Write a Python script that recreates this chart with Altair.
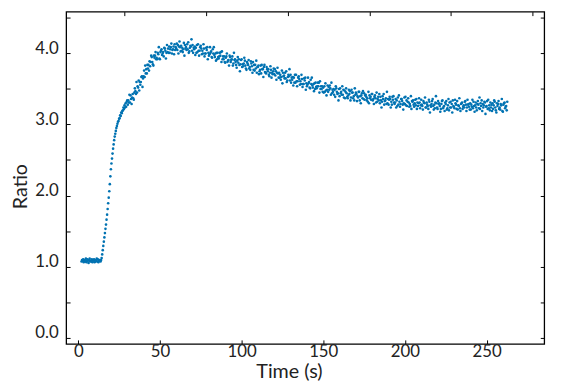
import altair as alt
import pandas as pd

# Acquisition second (s) and the three ratio readings taken within that second
seconds = [
    2, 3, 4, 5, 6, 7, 8, 9, 10, 11, 12, 13, 14, 15, 16, 17, 18, 19, 20, 21,
    22, 23, 24, 25, 26, 27, 28, 29, 30, 31, 32, 33, 34, 35, 36, 37, 38, 39, 40, 41,
    42, 43, 44, 45, 46, 47, 48, 49, 50, 51, 52, 53, 54, 55, 56, 57, 58, 59, 60, 61,
    62, 63, 64, 65, 66, 67, 68, 69, 70, 71, 72, 73, 74, 75, 76, 77, 78, 79, 80, 81,
    82, 83, 84, 85, 86, 87, 88, 89, 90, 91, 92, 93, 94, 95, 96, 97, 98, 99, 100, 101,
    102, 103, 104, 105, 106, 107, 108, 109, 110, 111, 112, 113, 114, 115, 116, 117, 118, 119, 120, 121,
    122, 123, 124, 125, 126, 127, 128, 129, 130, 131, 132, 133, 134, 135, 136, 137, 138, 139, 140, 141,
    142, 143, 144, 145, 146, 147, 148, 149, 150, 151, 152, 153, 154, 155, 156, 157, 158, 159, 160, 161,
    162, 163, 164, 165, 166, 167, 168, 169, 170, 171, 172, 173, 174, 175, 176, 177, 178, 179, 180, 181,
    182, 183, 184, 185, 186, 187, 188, 189, 190, 191, 192, 193, 194, 195, 196, 197, 198, 199, 200, 201,
    202, 203, 204, 205, 206, 207, 208, 209, 210, 211, 212, 213, 214, 215, 216, 217, 218, 219, 220, 221,
    222, 223, 224, 225, 226, 227, 228, 229, 230, 231, 232, 233, 234, 235, 236, 237, 238, 239, 240, 241,
    242, 243, 244, 245, 246, 247, 248, 249, 250, 251, 252, 253, 254, 255, 256, 257, 258, 259, 260, 261,
    262,
]
reading_offset_s = [0.0, 0.33, 0.67]

ratio_per_second = [
    [1.07, 1.09, 1.08], [1.10, 1.06, 1.08], [1.09, 1.07, 1.11], [1.06, 1.08, 1.10],
    [1.08, 1.05, 1.09], [1.11, 1.07, 1.08], [1.07, 1.10, 1.06], [1.09, 1.08, 1.10],
    [1.06, 1.09, 1.07], [1.08, 1.11, 1.07], [1.10, 1.06, 1.09], [1.08, 1.09, 1.07],
    [1.09, 1.12, 1.17], [1.23, 1.29, 1.35], [1.41, 1.47, 1.53], [1.59, 1.66, 1.73],
    [1.81, 1.89, 1.97], [2.06, 2.16, 2.27], [2.37, 2.45, 2.52], [2.59, 2.66, 2.72],
    [2.78, 2.83, 2.87], [2.91, 2.95, 2.98], [3.01, 3.04, 3.05], [3.08, 3.09, 3.13],
    [3.12, 3.17, 3.16], [3.19, 3.20, 3.24], [3.22, 3.27, 3.24], [3.30, 3.25, 3.32],
    # 30-59
    [3.34, 3.28, 3.34], [3.31, 3.42, 3.31], [3.41, 3.36, 3.29], [3.38, 3.43, 3.37],
    [3.35, 3.45, 3.51], [3.47, 3.43, 3.60], [3.45, 3.54, 3.52], [3.62, 3.48, 3.60],
    [3.56, 3.60, 3.67], [3.68, 3.53, 3.65], [3.68, 3.76, 3.67], [3.83, 3.72, 3.78],
    [3.72, 3.84, 3.79], [3.84, 3.76, 3.89], [3.82, 3.88, 3.97], [3.95, 3.88, 3.85],
    [3.83, 3.97, 3.94], [3.97, 4.02, 3.92], [3.94, 3.92, 4.01], [3.99, 4.09, 3.93],
    [3.92, 4.02, 4.04], [4.06, 3.98, 4.00], [4.02, 3.96, 4.08], [4.07, 4.04, 3.93],
    [4.01, 4.12, 4.02], [4.07, 4.01, 4.10], [4.01, 4.06, 4.09], [4.14, 4.00, 4.05],
    [4.06, 4.10, 3.99], [4.13, 4.05, 4.09],
    # 60-89
    [4.07, 4.14, 4.05], [4.12, 4.00, 4.10], [4.17, 4.09, 4.03], [4.11, 4.04, 4.08],
    [4.02, 4.06, 4.15], [3.97, 4.12, 4.07], [4.09, 4.05, 4.13], [4.06, 4.16, 4.01],
    [4.03, 4.08, 4.11], [4.10, 4.20, 4.04], [4.12, 4.01, 4.08], [4.06, 4.10, 3.98],
    [4.08, 4.01, 4.12], [4.02, 4.13, 4.04], [3.97, 4.04, 4.09], [4.11, 4.07, 3.99],
    [4.04, 4.00, 4.13], [4.07, 3.96, 4.00], [4.00, 4.08, 4.05], [4.09, 3.92, 4.01],
    [3.97, 3.99, 4.09], [4.01, 4.03, 3.95], [3.94, 4.06, 4.00], [4.09, 3.98, 3.95],
    [4.00, 3.90, 4.01], [3.92, 4.01, 3.95], [3.93, 3.96, 4.01], [3.97, 4.02, 3.88],
    [4.03, 3.92, 3.96], [3.92, 3.96, 3.88],
    # 90-119
    [3.87, 3.94, 3.96], [4.00, 3.88, 3.90], [3.91, 3.83, 3.97], [3.95, 3.88, 3.91],
    [3.92, 3.96, 3.83], [3.86, 4.01, 3.91], [3.92, 3.88, 3.84], [3.80, 3.90, 3.95],
    [3.87, 3.92, 3.84], [3.75, 3.85, 3.91], [3.92, 3.81, 3.85], [3.82, 3.86, 3.94],
    [3.90, 3.83, 3.79], [3.77, 3.88, 3.86], [3.84, 3.91, 3.79], [3.81, 3.77, 3.89],
    [3.86, 3.82, 3.73], [3.88, 3.77, 3.84], [3.76, 3.84, 3.79], [3.90, 3.73, 3.81],
    [3.81, 3.83, 3.71], [3.75, 3.77, 3.83], [3.72, 3.84, 3.78], [3.78, 3.67, 3.81],
    [3.84, 3.74, 3.73], [3.72, 3.81, 3.78], [3.75, 3.78, 3.70], [3.68, 3.73, 3.82],
    [3.77, 3.66, 3.73], [3.71, 3.75, 3.79],
    # 120-149
    [3.71, 3.78, 3.69], [3.75, 3.63, 3.73], [3.80, 3.72, 3.66], [3.73, 3.66, 3.70],
    [3.63, 3.67, 3.76], [3.58, 3.73, 3.68], [3.69, 3.65, 3.73], [3.65, 3.75, 3.60],
    [3.62, 3.67, 3.70], [3.68, 3.78, 3.62], [3.70, 3.59, 3.66], [3.63, 3.67, 3.55],
    [3.66, 3.59, 3.70], [3.59, 3.70, 3.61], [3.54, 3.61, 3.66], [3.68, 3.64, 3.56],
    [3.61, 3.57, 3.70], [3.64, 3.53, 3.57], [3.57, 3.65, 3.62], [3.66, 3.49, 3.58],
    [3.54, 3.56, 3.66], [3.58, 3.60, 3.52], [3.51, 3.63, 3.57], [3.66, 3.55, 3.52],
    [3.57, 3.47, 3.58], [3.50, 3.59, 3.53], [3.51, 3.54, 3.59], [3.54, 3.59, 3.45],
    [3.61, 3.50, 3.54], [3.50, 3.54, 3.46],
    # 150-179
    [3.52, 3.45, 3.54], [3.46, 3.58, 3.48], [3.41, 3.49, 3.55], [3.46, 3.53, 3.49],
    [3.55, 3.51, 3.42], [3.59, 3.44, 3.49], [3.46, 3.50, 3.42], [3.49, 3.39, 3.54],
    [3.51, 3.46, 3.43], [3.44, 3.34, 3.50], [3.40, 3.51, 3.44], [3.46, 3.42, 3.54],
    [3.42, 3.49, 3.38], [3.48, 3.37, 3.46], [3.51, 3.44, 3.39], [3.37, 3.41, 3.49],
    [3.43, 3.47, 3.34], [3.38, 3.49, 3.45], [3.45, 3.37, 3.40], [3.34, 3.51, 3.42],
    [3.45, 3.43, 3.33], [3.40, 3.38, 3.46], [3.46, 3.34, 3.40], [3.30, 3.41, 3.44],
    [3.37, 3.47, 3.36], [3.44, 3.35, 3.41], [3.42, 3.39, 3.34], [3.37, 3.32, 3.46],
    [3.30, 3.41, 3.37], [3.39, 3.35, 3.43],
    # 180-209
    [3.43, 3.34, 3.36], [3.29, 3.39, 3.41], [3.37, 3.31, 3.45], [3.32, 3.36, 3.39],
    [3.34, 3.43, 3.30], [3.39, 3.34, 3.24], [3.32, 3.40, 3.36], [3.43, 3.28, 3.33],
    [3.34, 3.37, 3.29], [3.46, 3.30, 3.36], [3.28, 3.35, 3.39], [3.36, 3.24, 3.32],
    [3.28, 3.39, 3.35], [3.40, 3.31, 3.29], [3.31, 3.36, 3.24], [3.34, 3.26, 3.38],
    [3.28, 3.41, 3.32], [3.25, 3.29, 3.36], [3.36, 3.33, 3.28], [3.21, 3.30, 3.38],
    [3.29, 3.39, 3.27], [3.34, 3.26, 3.32], [3.37, 3.31, 3.25], [3.29, 3.26, 3.40],
    [3.22, 3.33, 3.32], [3.34, 3.28, 3.25], [3.30, 3.35, 3.27], [3.36, 3.22, 3.31],
    [3.26, 3.30, 3.37], [3.31, 3.23, 3.27],
    # 210-239
    [3.35, 3.28, 3.26], [3.21, 3.33, 3.31], [3.30, 3.38, 3.24], [3.24, 3.31, 3.28],
    [3.26, 3.22, 3.35], [3.32, 3.17, 3.27], [3.25, 3.29, 3.33], [3.36, 3.26, 3.21],
    [3.28, 3.23, 3.31], [3.40, 3.30, 3.24], [3.22, 3.33, 3.29], [3.30, 3.26, 3.18],
    [3.22, 3.29, 3.33], [3.34, 3.23, 3.25], [3.26, 3.19, 3.31], [3.29, 3.33, 3.21],
    [3.23, 3.27, 3.36], [3.20, 3.31, 3.24], [3.32, 3.24, 3.29], [3.17, 3.34, 3.26],
    [3.25, 3.23, 3.35], [3.30, 3.28, 3.22], [3.33, 3.21, 3.27], [3.26, 3.37, 3.23],
    [3.19, 3.29, 3.30], [3.31, 3.22, 3.25], [3.27, 3.24, 3.32], [3.33, 3.28, 3.19],
    [3.24, 3.35, 3.28], [3.29, 3.25, 3.21],
    # 240-262
    [3.30, 3.21, 3.28], [3.25, 3.35, 3.23], [3.32, 3.26, 3.18], [3.27, 3.31, 3.24],
    [3.20, 3.29, 3.33], [3.28, 3.23, 3.38], [3.22, 3.30, 3.26], [3.34, 3.19, 3.29],
    [3.24, 3.27, 3.32], [3.31, 3.15, 3.25], [3.26, 3.33, 3.22], [3.35, 3.23, 3.27],
    [3.20, 3.31, 3.24], [3.28, 3.19, 3.30], [3.22, 3.27, 3.34], [3.32, 3.24, 3.20],
    [3.17, 3.30, 3.26], [3.29, 3.33, 3.22], [3.24, 3.21, 3.29], [3.27, 3.36, 3.19],
    [3.18, 3.28, 3.30], [3.31, 3.23, 3.25], [3.26, 3.20, 3.32],
]

x_ticks = [0, 50, 100, 150, 200, 250]
y_ticks = [0, 0.5, 1.0, 1.5, 2.0, 2.5, 3.0, 3.5, 4.0, 4.5]
x_domain = [-7.4, 285.3]
top_axis_shift = 28.2
y_domain = [-0.09, 4.59]

rows = []
for s, readings in zip(seconds, ratio_per_second):
    for off, r in zip(reading_offset_s, readings):
        rows.append({"time": s + off, "ratio": r})
df = pd.DataFrame(rows)

FONT = "Lato"
TXT = "#222222"

tick_axis = dict(offset=-4, tickSize=4, domain=False, grid=False,
                 tickColor="black", tickWidth=1)

points = alt.Chart(df).mark_circle(size=7, opacity=1, color="#0072b2").encode(
    x=alt.X("time:Q",
            scale=alt.Scale(domain=x_domain, nice=False, zero=False),
            axis=alt.Axis(orient="bottom", values=x_ticks, title="Time (s)",
                          labelPadding=0, labelFontSize=17, labelColor=TXT,
                          labelFlush=False, labelOverlap=False,
                          labelFont=FONT, titleFont=FONT,
                          titleFontSize=20, titleColor=TXT, titleFontWeight="normal",
                          titleX=226, titleY=38, titleBaseline="alphabetic",
                          **tick_axis)),
    y=alt.Y("ratio:Q",
            scale=alt.Scale(domain=y_domain, nice=False, zero=False),
            axis=alt.Axis(orient="left", values=y_ticks, title="Ratio",
                          labelExpr="datum.value % 1 == 0 ? format(datum.value, '.1f') : ''",
                          labelPadding=8, labelFontSize=17, labelColor=TXT,
                          labelBaseline="alphabetic", labelOverlap=False, labelFlush=False,
                          labelFont=FONT, titleFont=FONT,
                          titleFontSize=20, titleColor=TXT, titleFontWeight="normal",
                          titleAngle=270, titleX=-44, titleY=177,
                          titleBaseline="alphabetic", titleAlign="center",
                          **tick_axis)),
)

frame = alt.Chart(df).mark_circle(opacity=0, clip=True).encode(
    x=alt.X("time:Q",
            scale=alt.Scale(domain=[x_domain[0] - top_axis_shift, x_domain[1] - top_axis_shift],
                            nice=False, zero=False),
            axis=alt.Axis(orient="top", values=x_ticks, labels=False, title="", **tick_axis)),
    y=alt.Y("ratio:Q",
            scale=alt.Scale(domain=y_domain, nice=False, zero=False),
            axis=alt.Axis(orient="right", values=y_ticks, labels=False, title="", **tick_axis)),
)

chart = (
    alt.layer(points, frame)
    .resolve_scale(x="independent", y="independent")
    .properties(width=485, height=337,
                background="white",
                autosize=alt.AutoSizeParams(type="none"),
                padding={"left": 59, "top": 1, "right": 16, "bottom": 37})
    .configure_view(stroke="black", strokeWidth=1.3)
)

chart.save("out.html", embed_options={"renderer": "svg", "actions": False})
